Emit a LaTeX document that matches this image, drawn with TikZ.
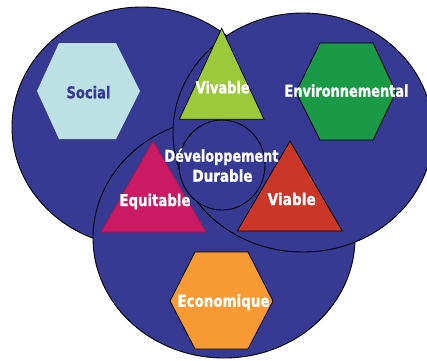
\documentclass[tikz,border=0pt]{standalone}
\usepackage{fontspec}
\newfontfamily\lblfont{DejaVu Sans}[BoldFeatures={FakeBold=1.2}]
\definecolor{bluefill}{HTML}{363A93}
\definecolor{socialfill}{HTML}{BDE0E4}
\definecolor{envfill}{HTML}{1A9A47}
\definecolor{ecofill}{HTML}{F79A33}
\definecolor{vivfill}{HTML}{9BC93C}
\definecolor{equfill}{HTML}{C91A63}
\definecolor{equline}{HTML}{A3174F}
\definecolor{viafill}{HTML}{CA3627}
\newcommand{\lbl}[2]{\resizebox{#1}{\height}{\lblfont\bfseries\fontsize{16.3pt}{19pt}\selectfont #2}}
\tikzset{
  bigring/.style={fill=bluefill, draw=black, line width=0.9pt},
  hexa/.style={draw=black, line width=0.8pt},
  tri/.style={draw=black, line width=0.8pt},
  lab/.style={inner sep=0pt, anchor=base, text=white}
}
\begin{document}
\begin{tikzpicture}[x=1pt, y=-1pt]
\clip (0,0) rectangle (427,360);
\fill[white] (0,0) rectangle (427,360);
% big rings
\draw[bigring] (142,127) ellipse [x radius=130pt, y radius=120pt];
\draw[bigring] (224,238) ellipse [x radius=131pt, y radius=120pt];
\draw[bigring] (303,132.5) ellipse [x radius=130pt, y radius=119.5pt];
\draw[bigring] (222,165) ellipse [x radius=43pt, y radius=45pt];
% hexagons
\fill[socialfill] (37,91) -- (59,43) -- (116,43) -- (140,91) -- (116,139) -- (59,139) -- cycle;
\draw[hexa, fill=envfill] (296,92) -- (320,43) -- (373,43) -- (396,92) -- (373,140) -- (320,140) -- cycle;
\draw[hexa, fill=ecofill] (170,301) -- (195,252) -- (248,252) -- (273,301) -- (248,349) -- (195,349) -- cycle;
% triangles
\draw[tri, fill=vivfill] (221.7,28.3) -- (179.3,119.3) -- (264,119.3) -- cycle;
\draw[tri, fill=equfill, draw=equline] (153,141) -- (101,232) -- (206,232) -- cycle;
\draw[tri, fill=viafill] (290,141) -- (237.3,231) -- (342.3,231) -- cycle;
% labels
\node[lab, text=bluefill] (social) at (88.5,98.3) {\lbl{44pt}{Social}};
\node[lab] (env) at (346.5,96.7) {\lbl{124pt}{Environnemental}};
\node[lab] (viv) at (222.7,93.3) {\lbl{54pt}{Vivable}};
\node[lab] (dev) at (221.5,161.7) {\lbl{114pt}{Développement}};
\node[lab] (dur) at (222.5,181.7) {\lbl{60pt}{Durable}};
\node[lab] (equ) at (155,206) {\lbl{71pt}{Equitable}};
\node[lab] (via) at (291.7,205) {\lbl{48pt}{Viable}};
\node[lab] (eco) at (223.5,306.7) {\lbl{92pt}{Economique}};
\end{tikzpicture}
\end{document}
